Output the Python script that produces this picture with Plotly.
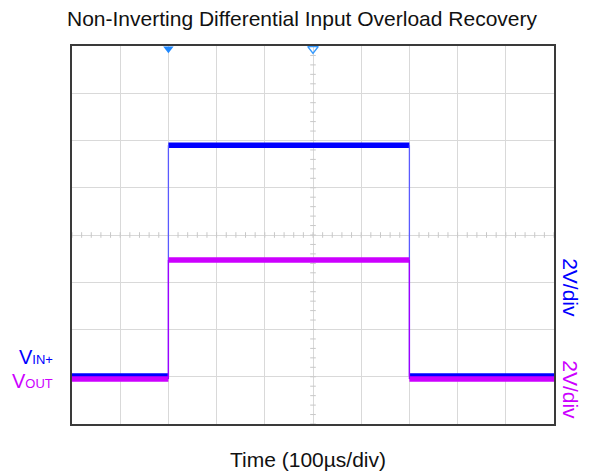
import numpy as np
import plotly.graph_objects as go

# scope screen: 10 div x 100us, 8 div x 2V
t_start, t_end = -500, 500          # us
t_rise, t_fall = -300, 200          # us, edges of the input pulse

vin_low, vin_high = -5.97, 3.80     # V
vout_low, vout_high = -6.10, -1.06  # V

BLUE = "#0000ff"
MAGENTA = "#cc00ff"
FONT = "Liberation Sans, Arial, sans-serif"

fig = go.Figure()

# center cross minor ticks (0.2 div spacing)
hx = np.arange(t_start, t_end + 1, 20)
vy = np.arange(-8, 8.01, 0.4)
fig.add_trace(go.Scatter(x=hx, y=np.zeros_like(hx), mode="markers", hoverinfo="skip",
                         marker=dict(symbol="line-ns", size=4, line=dict(width=1, color="#c8c8c8"))))
fig.add_trace(go.Scatter(x=np.zeros_like(vy), y=vy, mode="markers", hoverinfo="skip",
                         marker=dict(symbol="line-ew", size=4, line=dict(width=1, color="#c8c8c8"))))


def add_channel(low, high, color, band, edge_color):
    # flat levels
    fig.add_trace(go.Scatter(
        x=[t_start, t_rise, None, t_rise, t_fall, None, t_fall, t_end],
        y=[low, low, None, high, high, None, low, low],
        mode="lines", line=dict(color=color, width=band), hoverinfo="skip"))
    # edges
    fig.add_trace(go.Scatter(
        x=[t_rise, t_rise, None, t_fall, t_fall],
        y=[low, high, None, high, low],
        mode="lines", line=dict(color=edge_color, width=1.3), hoverinfo="skip"))


add_channel(vin_low, vin_high, BLUE, 5.5, "#5a5aff")
add_channel(vout_low, vout_high, MAGENTA, 5.5, "#a000ff")

# trigger / position markers at the top
fig.add_trace(go.Scatter(x=[t_rise], y=[7.88], mode="markers", cliponaxis=False, hoverinfo="skip",
                         marker=dict(symbol="triangle-down", size=9, color="#1e88ff")))
fig.add_trace(go.Scatter(x=[0], y=[7.88], mode="markers", cliponaxis=False, hoverinfo="skip",
                         marker=dict(symbol="triangle-down-open", size=9, color="#3399ff",
                                     line=dict(width=1.5))))

fig.update_xaxes(range=[t_start, t_end], dtick=100, showgrid=True, gridcolor="#d9d9d9", gridwidth=1,
                 zeroline=False, showticklabels=False, ticks="",
                 showline=True, mirror=True, linecolor="#3a3a3a", linewidth=1.5)
fig.update_yaxes(range=[-8, 8], dtick=2, showgrid=True, gridcolor="#d9d9d9", gridwidth=1,
                 zeroline=False, showticklabels=False, ticks="",
                 showline=True, mirror=True, linecolor="#3a3a3a", linewidth=1.5)

annotations = [
    dict(text="Non-Inverting Differential Input Overload Recovery", x=0.478, y=1.0, yshift=28,
         xanchor="center", yanchor="middle", font=dict(size=21, color="#111111")),
    dict(text="Time (100µs/div)", x=0.49, y=0, yshift=-35,
         xanchor="center", yanchor="middle", font=dict(size=21, color="#111111")),
    dict(text="V<span style='font-size:13px'>IN+</span>", x=-0.035, y=0.176,
         xanchor="right", yanchor="middle", font=dict(size=20, color=BLUE)),
    dict(text="V<span style='font-size:13px'>OUT</span>", x=-0.035, y=0.115,
         xanchor="right", yanchor="middle", font=dict(size=20, color=MAGENTA)),
    dict(text="2V/div", x=1.034, y=0.361, textangle=90,
         xanchor="center", yanchor="middle", font=dict(size=21, color=BLUE)),
    dict(text="2V/div", x=1.034, y=0.091, textangle=90,
         xanchor="center", yanchor="middle", font=dict(size=21, color=MAGENTA)),
]
for a in annotations:
    fig.add_annotation(xref="paper", yref="paper", showarrow=False, **a)

# page body adds an 8px margin, so the figure is drawn 8px smaller and shifted
fig.update_layout(width=588, height=465, margin=dict(l=64, r=42, t=38, b=49),
                  plot_bgcolor="white", paper_bgcolor="white", showlegend=False,
                  font=dict(family=FONT))

fig.write_html("out.html")
